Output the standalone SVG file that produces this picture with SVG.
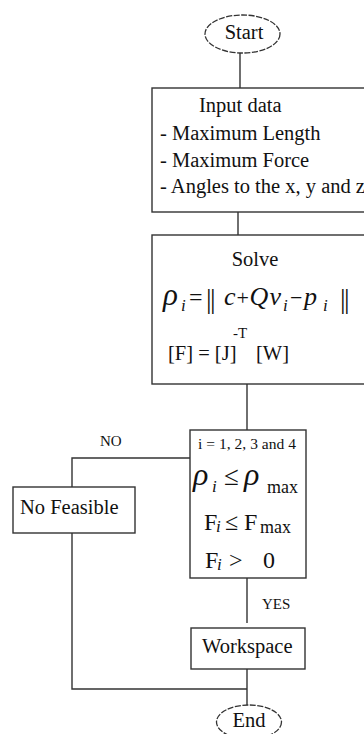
<svg xmlns="http://www.w3.org/2000/svg" width="364" height="734" viewBox="0 0 364 734">
<style>
.box{fill:#fff;stroke:#333;stroke-width:1.4}
.term{fill:#fff;stroke:#333;stroke-width:1.3;stroke-dasharray:6 1.5}
.ln{fill:none;stroke:#333;stroke-width:1.4}
text{font-family:"Liberation Serif","Times New Roman",serif;fill:#111}
.t20{font-size:20.5px}
.lbl{font-size:15px}
.it{font-style:italic}
</style>
<rect width="364" height="734" fill="#fff"/>
<g id="connectors">
<polyline class="ln" points="240,53 240,88"/>
<polyline class="ln" points="238,212 238,235"/>
<polyline class="ln" points="247,384 247,430"/>
<polyline class="ln" points="190,458 72,458 72,487"/>
<polyline class="ln" points="72,533 72,689 247,689"/>
<polyline class="ln" points="247,578 247,623"/>
<polyline class="ln" points="247,669 247,705"/>
<text class="lbl" x="100" y="446">NO</text>
<text class="lbl" x="262" y="609">YES</text>
</g>
<g id="start">
<ellipse class="term" cx="242.5" cy="34" rx="37.5" ry="19"/>
<text class="t20" x="244" y="39" text-anchor="middle">Start</text>
</g>
<g id="input">
<rect class="box" x="152" y="88" width="220" height="124"/>
<text class="t20" x="199" y="112">Input data</text>
<text class="t20" x="160" y="140">- Maximum Length</text>
<text class="t20" x="160" y="167">- Maximum Force</text>
<text class="t20" x="160" y="193">- Angles to the x, y and z</text>
</g>
<g id="solve">
<rect class="box" x="152" y="235" width="220" height="149"/>
<text class="t20" x="255" y="266" text-anchor="middle">Solve</text>
<text style="font-size:26px"><tspan class="it" x="163" y="305" style="font-size:31px">ρ</tspan><tspan class="it" x="181" y="311" style="font-size:17px">i</tspan><tspan x="189" y="305" style="font-size:24px">=</tspan><tspan x="206" y="308" style="font-size:28px;letter-spacing:-1.5px">||</tspan><tspan class="it" x="224" y="305">c</tspan><tspan x="236.5" y="305" style="font-size:22px">+</tspan><tspan class="it" x="249.5" y="305">Q</tspan><tspan class="it" x="269.5" y="305">v</tspan><tspan class="it" x="283" y="311" style="font-size:17px">i</tspan><tspan x="290" y="305" style="font-size:22px">−</tspan><tspan class="it" x="304" y="305">p</tspan><tspan class="it" x="323" y="311" style="font-size:17px">i</tspan><tspan x="340" y="308" style="font-size:28px;letter-spacing:-1.5px">||</tspan></text>
<text style="font-size:15px" x="233" y="338">-T</text>
<text class="t20" x="168" y="360">[F] = [J]</text>
<text class="t20" x="256" y="360">[W]</text>
</g>
<g id="decision">
<rect class="box" x="190" y="430" width="116" height="148"/>
<text style="font-size:15.5px" x="198" y="449" textLength="98">i = 1, 2, 3 and 4</text>
<text style="font-size:27px"><tspan class="it" x="193" y="485" style="font-size:32px">ρ</tspan><tspan class="it" x="212" y="492" style="font-size:17px">i</tspan><tspan x="224" y="485">≤</tspan><tspan class="it" x="244" y="485" style="font-size:32px">ρ</tspan><tspan x="267" y="493" style="font-size:18px">max</tspan></text>
<text style="font-size:24px"><tspan x="204" y="530">F</tspan><tspan class="it" x="216" y="532" style="font-size:17px">i</tspan><tspan x="225" y="530">≤</tspan><tspan x="244" y="530">F</tspan><tspan x="260" y="533" style="font-size:18px">max</tspan></text>
<text style="font-size:24px"><tspan x="205" y="568">F</tspan><tspan class="it" x="217" y="570" style="font-size:17px">i</tspan><tspan x="229" y="568">&gt;</tspan><tspan x="263" y="568">0</tspan></text>
</g>
<g id="nofeasible">
<rect class="box" x="13" y="487" width="122" height="46"/>
<text class="t20" x="20" y="514">No Feasible</text>
</g>
<g id="workspace">
<rect class="box" x="191" y="628" width="114" height="41"/>
<text class="t20" x="202" y="653">Workspace</text>
</g>
<g id="end">
<ellipse class="term" cx="249" cy="722" rx="32.5" ry="17"/>
<text class="t20" x="249" y="727" text-anchor="middle">End</text>
</g>
</svg>
